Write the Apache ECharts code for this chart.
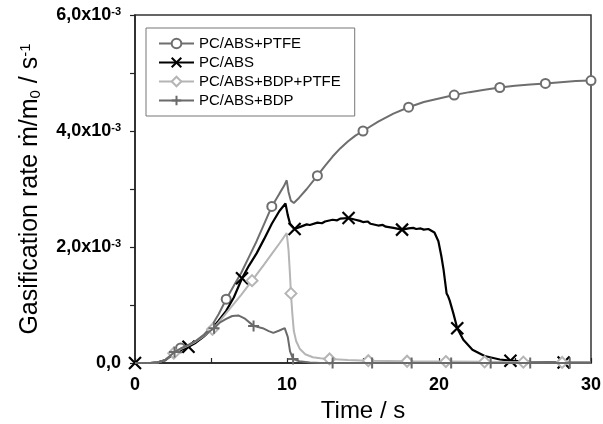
<!DOCTYPE html>
<html>
<head>
<meta charset="utf-8">
<script src="https://cdn.jsdelivr.net/npm/echarts@6/dist/echarts.min.js"></script>
<style>
html,body{margin:0;padding:0;background:#fff;}
#chart{width:603px;height:424px;}
</style>
</head>
<body>
<div id="chart"></div>
<script>
// Series names (legend order)
const seriesNames = ['PC/ABS+PTFE', 'PC/ABS', 'PC/ABS+BDP+PTFE', 'PC/ABS+BDP'];

// Values in units of 1e-3 s^-1, time in s
const ptfeCurve = [[0,0],[1,0],[1.5,0.01],[2,0.05],[2.5,0.16],[3.5,0.31],[4,0.38],[4.5,0.48],[5,0.62],[5.5,0.84],[6.5,1.33],[7,1.56],[7.5,1.83],[8,2.10],[8.5,2.40],[9.5,2.92],[9.8,3.05],[9.98,3.15],[10.1,2.95],[10.25,2.80],[10.45,2.76],[10.8,2.85],[11.3,3.0],[12.5,3.40],[13,3.56],[13.5,3.70],[14,3.82],[14.5,3.92],[16,4.16],[17,4.30],[19,4.50],[20,4.56],[22,4.67],[23,4.71],[25,4.78],[26,4.80],[28,4.84],[29,4.86]];
const ptfeMarks = [[3,0.26],[6,1.10],[9,2.70],[12,3.23],[15,4.00],[18,4.41],[21,4.62],[24,4.75],[27,4.82],[30,4.87]];

const absCurve = [[1,0],[1.5,0.01],[2,0.05],[2.5,0.15],[3,0.22],[4,0.35],[4.5,0.45],[5,0.57],[5.5,0.73],[6,0.90],[6.5,1.13],[7.5,1.68],[8,1.89],[8.5,2.14],[9,2.40],[9.5,2.62],[9.9,2.75],[10.05,2.55],[10.2,2.40],[11,2.36],[11.3,2.39],[11.5,2.38],[12,2.42],[12.3,2.41],[12.5,2.44],[13,2.47],[13.3,2.46],[13.5,2.49],[14.5,2.47],[14.8,2.45],[15,2.43],[15.3,2.44],[15.5,2.40],[16,2.37],[16.3,2.38],[16.5,2.35],[17,2.33],[18,2.32],[18.3,2.33],[18.5,2.31],[18.8,2.32],[19,2.30],[19.3,2.31],[19.5,2.28],[19.7,2.25],[19.96,2.10],[20.15,1.85],[20.3,1.61],[20.5,1.20],[20.55,1.22],[20.6,1.15],[20.7,1.08],[20.94,0.86],[21.6,0.40],[22.2,0.23],[23,0.12],[24,0.06],[26,0.02],[30,0.005]];
const absMarks = [[0,0],[3.52,0.28],[7.04,1.46],[10.5,2.31],[14.05,2.50],[17.57,2.30],[21.2,0.60],[24.7,0.04],[28.2,0.01]];

const bdpPtfeCurve = [[0,0],[1,0],[1.5,0.01],[2,0.05],[3,0.24],[3.5,0.30],[4,0.37],[4.5,0.46],[5.5,0.70],[6,0.86],[6.5,1.02],[7,1.18],[8.5,1.70],[9,1.88],[9.5,2.06],[9.98,2.24],[10.1,1.95],[10.18,1.60],[10.35,0.85],[10.45,0.55],[10.6,0.38],[10.85,0.24],[11.2,0.15],[11.7,0.10],[12.2,0.08],[14,0.05],[30,0.01]];
const bdpPtfeMarks = [[2.55,0.17],[5.1,0.58],[7.7,1.42],[10.26,1.20],[12.8,0.07],[15.35,0.04],[17.9,0.03],[20.45,0.025],[23.0,0.02],[25.55,0.015],[28.1,0.01]];

const bdpCurve = [[0,0],[1,0],[1.5,0.01],[2,0.05],[3,0.25],[3.5,0.31],[4,0.38],[4.5,0.47],[5.6,0.70],[6,0.76],[6.4,0.81],[6.8,0.82],[7.2,0.77],[8.4,0.60],[8.8,0.55],[9.1,0.52],[9.5,0.56],[9.85,0.60],[9.95,0.57],[10.05,0.45],[10.2,0.20],[10.8,0.03],[11.5,0.01],[12.2,0],[30,0]];
const bdpMarks = [[2.6,0.19],[5.2,0.60],[7.8,0.64],[10.4,0.07],[13.0,0],[15.6,0],[18.2,0],[20.8,0],[23.4,0],[26.0,0],[28.6,0]];

// Axis tick labels
const xTickLabels = {0:'0', 10:'10', 20:'20', 30:'30'};
const yTickLabels = {0:'0,0', 2:'2,0x10', 4:'4,0x10', 6:'6,0x10'};
const yExponent = '-3';

const FONT = 'Liberation Sans, Arial, sans-serif';

function build(curve, marks) {
  const markTimes = new Set(marks.map(m => m[0]));
  const items = curve.filter(p => !markTimes.has(p[0])).map(p => ({value: p, symbol: 'none'}));
  marks.forEach(m => items.push({value: m}));
  items.sort((a, b) => a.value[0] - b.value[0]);
  return items;
}

const styles = [
  {color: '#6e6e6e', symbol: 'emptyCircle', size: 9, width: 2, bw: 1.6},
  {color: '#000000', symbol: 'path://M0,0L10,10M10,0L0,10', size: 12, width: 2.2, bw: 2.2},
  {color: '#b5b5b5', symbol: 'emptyDiamond', size: 11, width: 2, bw: 1.6},
  {color: '#6a6a6a', symbol: 'path://M5,0L5,10M0,5L10,5', size: 11, width: 2, bw: 2}
];
const datasets = [build(ptfeCurve, ptfeMarks), build(absCurve, absMarks), build(bdpPtfeCurve, bdpPtfeMarks), build(bdpCurve, bdpMarks)];

const series = seriesNames.map((name, i) => ({
  name: name,
  type: 'line',
  data: datasets[i],
  symbol: styles[i].symbol,
  symbolSize: styles[i].size,
  showSymbol: true,
  showAllSymbol: true,
  smooth: false,
  lineStyle: {color: styles[i].color, width: styles[i].width},
  itemStyle: {color: styles[i].color, borderColor: styles[i].color, borderWidth: styles[i].bw},
  emphasis: {disabled: true},
  z: 2 + i
}));

const chart = echarts.init(document.getElementById('chart'), null, {renderer: 'canvas'});
chart.setOption({
  animation: false,
  backgroundColor: '#fff',
  textStyle: {fontFamily: FONT},
  grid: {left: 135, right: 12, top: 15, bottom: 61, outerBoundsMode: 'none', containLabel: false, show: true, borderColor: '#333', borderWidth: 1.5, backgroundColor: 'transparent'},
  legend: {
    orient: 'vertical',
    left: 146, top: 28,
    padding: [8, 14, 8, 12],
    itemWidth: 35, itemHeight: 12, itemGap: 4,
    borderColor: '#777', borderWidth: 1,
    textStyle: {fontSize: 15, color: '#000', fontFamily: FONT},
    data: seriesNames
  },
  xAxis: {
    type: 'value', min: 0, max: 30, interval: 5,
    name: 'Time / s', nameLocation: 'middle', nameGap: 33,
    nameTextStyle: {fontSize: 24, color: '#000', fontFamily: FONT},
    axisLine: {lineStyle: {color: '#222', width: 1.5}},
    axisTick: {inside: true, length: 5, lineStyle: {color: '#222', width: 1.2}},
    splitLine: {show: false},
    axisLabel: {
      margin: 13, fontSize: 18, fontWeight: 'bold', color: '#000', fontFamily: FONT,
      formatter: v => xTickLabels[Math.round(v)] !== undefined ? xTickLabels[Math.round(v)] : ''
    }
  },
  yAxis: {
    type: 'value', min: 0, max: 6, interval: 1,
    name: '{n|Gasification rate ṁ/m}{sub|0}{n| / s}{sup|-1}',
    nameLocation: 'middle', nameGap: 92,
    nameTextStyle: {
      fontFamily: FONT, color: '#000', fontSize: 25,
      rich: {
        n: {fontSize: 25, fontFamily: FONT, color: '#000'},
        sub: {fontSize: 15, fontFamily: FONT, color: '#000', verticalAlign: 'bottom'},
        sup: {fontSize: 15, fontFamily: FONT, color: '#000', verticalAlign: 'top'}
      }
    },
    axisLine: {lineStyle: {color: '#222', width: 1.5}},
    axisTick: {inside: false, length: 5, lineStyle: {color: '#222', width: 1.2}},
    splitLine: {show: false},
    axisLabel: {
      margin: 14, color: '#000',
      formatter: function (v) {
        const k = Math.round(v);
        if (yTickLabels[k] === undefined) return '';
        if (k === 0) return '{a|' + yTickLabels[k] + '}';
        return '{a|' + yTickLabels[k] + '}{s|' + yExponent + '}';
      },
      rich: {
        a: {fontSize: 18, fontWeight: 'bold', fontFamily: FONT, color: '#000'},
        s: {fontSize: 11, fontWeight: 'bold', fontFamily: FONT, color: '#000', verticalAlign: 'top'}
      }
    }
  },
  series: series
});
</script>
</body>
</html>
